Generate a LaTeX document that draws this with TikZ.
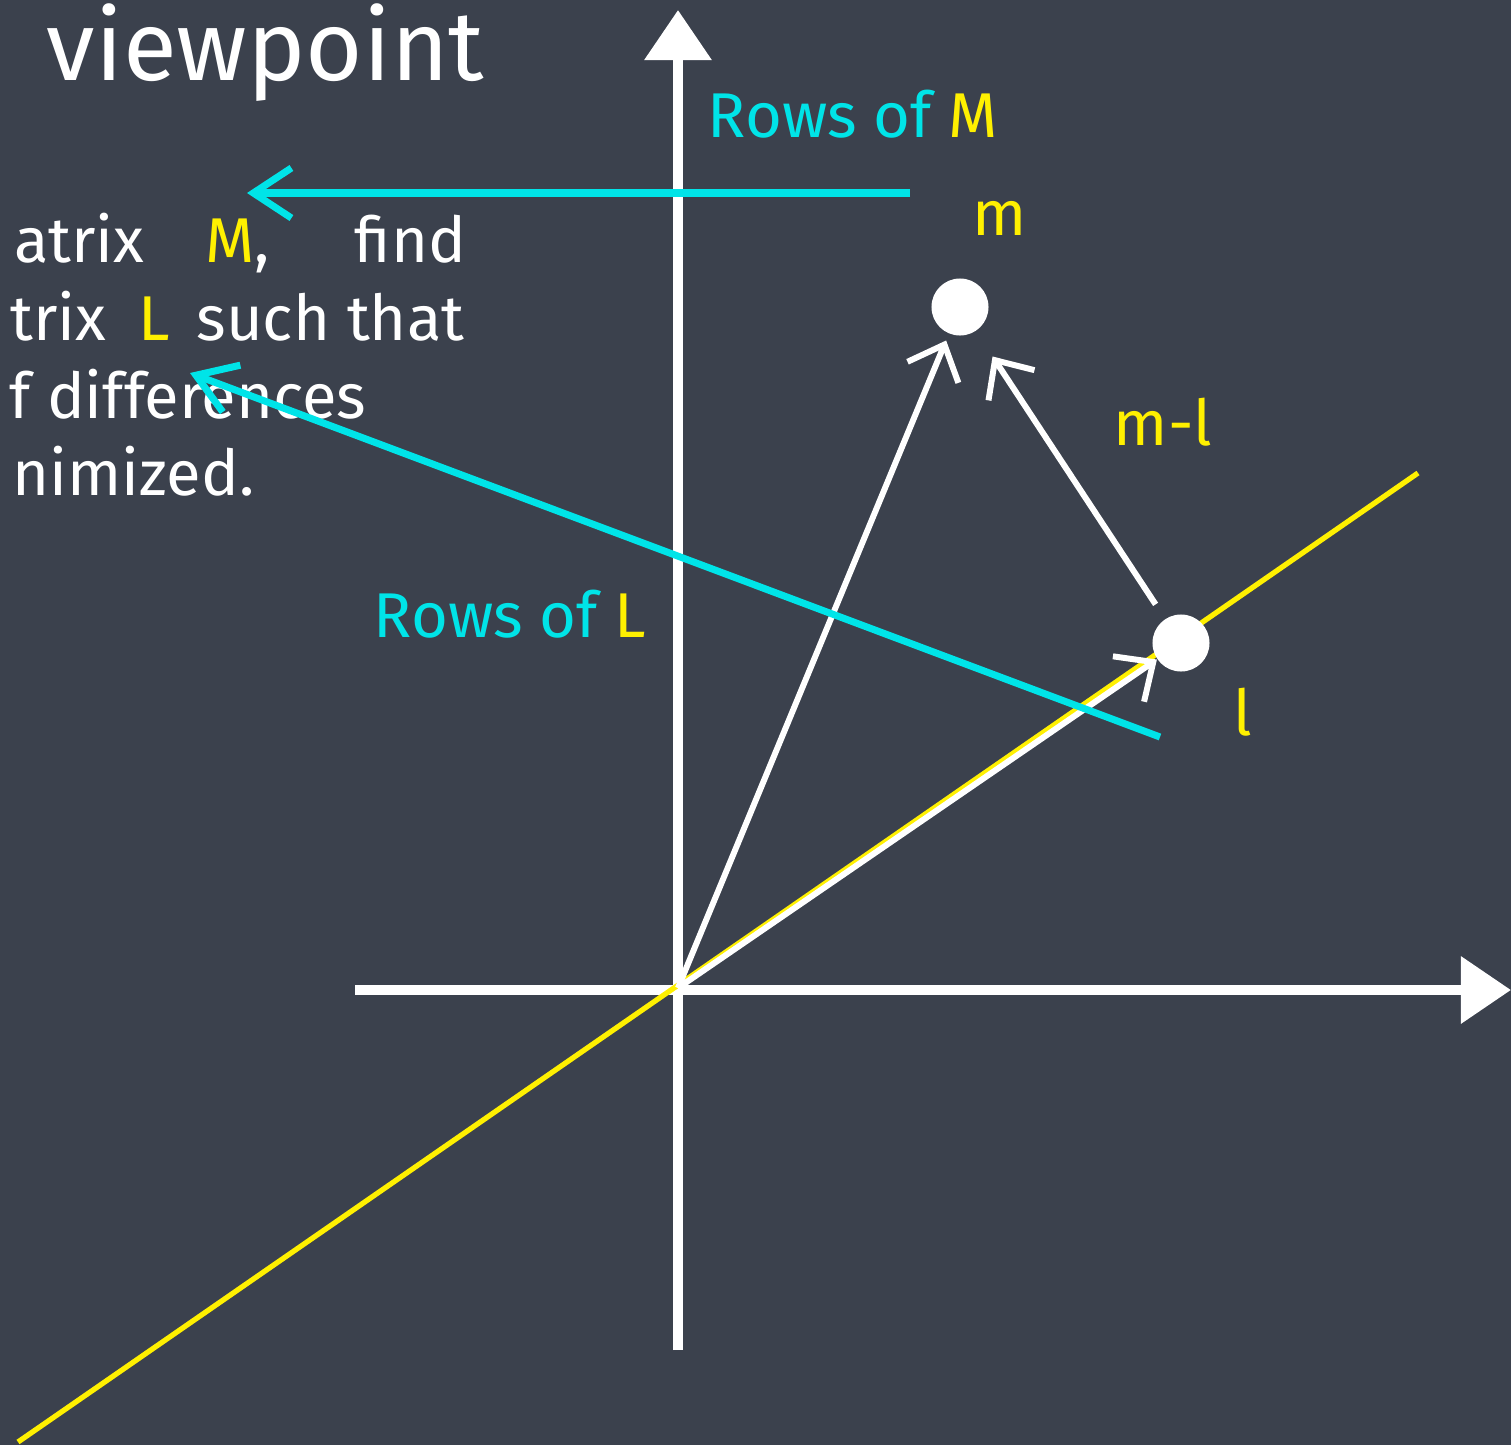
\documentclass[tikz,border=0pt]{standalone}
\usepackage{fontspec}
\setmainfont{Fira Sans}
\usetikzlibrary{arrows.meta, positioning}
\definecolor{board}{RGB}{59,65,77}
\definecolor{chalkyellow}{RGB}{255,240,0}
\definecolor{chalkcyan}{RGB}{0,228,232}

\begin{document}
\begin{tikzpicture}[x=0.01cm, y=-0.01cm,
		axis/.style={white, line width=2.8pt, -{Triangle[length=0.5cm, width=0.65cm]}},
		vec/.style={white, line width=1.7pt, -{Straight Barb[length=0.3cm, width=0.55cm, line width=1.7pt]}},
		rowarrow/.style={chalkcyan, line width=2pt, -{Straight Barb[length=0.38cm, width=0.5cm, line width=2pt]}},
		dot/.style={circle, fill=white, minimum size=0.57cm, inner sep=0pt},
		chalk/.style={white, font=\fontsize{18}{22}\selectfont, inner sep=0pt},
		lbl/.style={chalkyellow, font=\fontsize{18}{22}\selectfont},
		rowlbl/.style={chalkcyan, font=\fontsize{18}{22}\selectfont, inner sep=0pt}]
	% Board
	\useasboundingbox (0,0) rectangle (1511,1445);
	\clip (0,0) rectangle (1511,1445);
	\fill[board] (0,0) rectangle (1511,1445);
	
	% Title and statement
	\node[chalk, font=\fontsize{28}{32}\selectfont, anchor=base east] (title) at (485,80) {viewpoint};
	\node[chalk, anchor=base east] (txtA) at (145,262) {atrix};
	\node[chalk, anchor=base west] (txtM) at (205,262) {\textcolor{chalkyellow}{M},};
	\node[chalk, anchor=base east] (txtB) at (467,262) {find};
	\node[chalk, anchor=base east] (txtC) at (107,340) {trix};
	\node[chalk, anchor=base west] (txtL) at (138,340) {\textcolor{chalkyellow}{L}};
	\node[chalk, anchor=base east] (txtD) at (465,340) {such that};
	\node[chalk, anchor=base east] (txtE) at (367,418) {f differences};
	\node[chalk, anchor=base east] (txtF) at (255,495) {nimized.};
	
	% Axes
	\coordinate (O) at (678,988);
	\coordinate (xl) at (355,990);
	\coordinate (xr) at (1511,990);
	\coordinate (yb) at (678,1350);
	\coordinate (yt) at (678,10);
	\draw[axis] (xl) -- (xr);
	\draw[axis] (yb) -- (yt);
	
	% Subspace spanned by the rows of L
	\coordinate (sub1) at (18,1442);
	\coordinate (sub2) at (1418,473);
	\draw[chalkyellow, line width=1.5pt] (sub1) -- (sub2);
	
	% Points
	\node[dot] (m) at (960,307) {};
	\node[dot] (l) at (1181,643) {};
	\node[lbl] (mlbl) at (1000,218) {m};
	\node[lbl] (mllbl) at (1163,422) {m-l};
	\node[lbl] (llbl) at (1243,712) {l};
	
	% Vectors
	\draw[vec, shorten >=2pt] (O) -- (m);
	\draw[vec] (O) -- (l);
	\draw[vec, shorten >=0.3cm, shorten <=0.17cm] (l) -- (m);
	
	% Rows of M and rows of L
	\node[rowlbl, anchor=base west] (rowsM) at (707,137) {Rows of \textcolor{chalkyellow}{M}};
	\node[rowlbl, anchor=base west] (rowsL) at (373,637) {Rows of \textcolor{chalkyellow}{L}};
	\coordinate (rM1) at (910,193);
	\coordinate (rM2) at (247,193);
	\coordinate (rL1) at (1160,737);
	\coordinate (rL2) at (190,373);
	\draw[rowarrow] (rM1) -- (rM2);
	\draw[rowarrow] (rL1) -- (rL2);
\end{tikzpicture}
\end{document}
